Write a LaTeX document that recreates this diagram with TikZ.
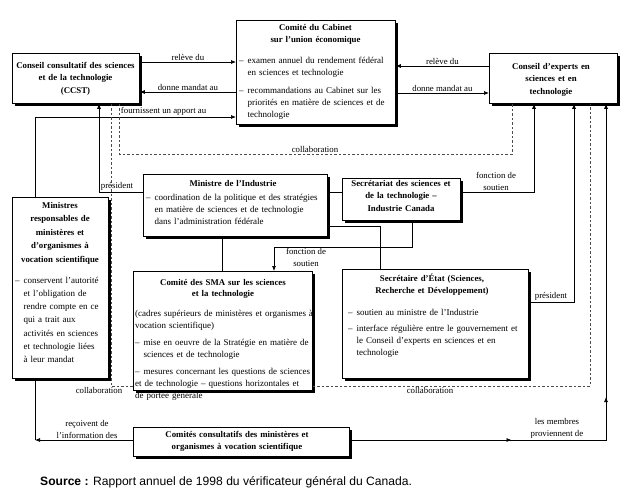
\documentclass[tikz,border=0pt]{standalone}
\usepackage{fontspec}
\setmainfont{Liberation Serif}
\newfontfamily\srcfont{Liberation Sans}
\usetikzlibrary{arrows.meta,shadows,decorations.markings}
\begin{document}
\begin{tikzpicture}[x=1pt,y=-1pt,
  box/.style={draw=black, line width=0.8pt, fill=white, inner sep=0pt, anchor=north west,
    drop shadow={shadow xshift=2.8pt, shadow yshift=-2.8pt, fill=black, opacity=1}},
  ttl/.style={font=\fontsize{8.8}{12.5}\selectfont\bfseries, align=center, inner sep=0pt, anchor=base},
  bdy/.style={font=\fontsize{9}{12}\selectfont, align=left, inner sep=0pt, anchor=base west},
  lbl/.style={font=\fontsize{8.8}{12}\selectfont, align=center, inner sep=1pt},
  ln/.style={line width=0.7pt},
  tip/.style={-{Latex[length=5pt,width=4pt]}},
  arr/.style={ln, tip},
  dsh/.style={line width=0.7pt, dash pattern=on 2.5pt off 2pt, black!70},
]
\useasboundingbox (0,0) rectangle (628,498);

% boxes
\node[box, minimum width=127pt, minimum height=50pt] (ccst) at (12,53) {};
\node[box, minimum width=159pt, minimum height=104pt] (cab) at (236,20) {};
\node[box, minimum width=128pt, minimum height=50pt] (cex) at (489,53) {};
\node[box, minimum width=184pt, minimum height=62pt] (min) at (143,174) {};
\node[box, minimum width=118pt, minimum height=42pt] (sec) at (342,178) {};
\node[box, minimum width=96pt, minimum height=181pt] (mrs) at (12,197) {};
\node[box, minimum width=179pt, minimum height=119pt] (sma) at (133,271) {};
\node[box, minimum width=186pt, minimum height=109pt] (set) at (342,269) {};
\node[box, minimum width=216pt, minimum height=29pt] (ccm) at (133,427) {};

% texts
\node[ttl, text width=127pt] (ccstT) at (75.5,68) {Conseil consultatif des sciences\\et de la technologie\\(CCST)};
\node[ttl, text width=159pt] (cabT) at (315.5,30) {Comité du Cabinet\\sur l’union économique};
\node[bdy, text width=156pt] (cabB) at (239,63) {–\hspace{4pt}examen annuel du rendement fédéral\\\hspace*{8.4pt}en sciences et technologie\\[6pt]–\hspace{4pt}recommandations au Cabinet sur les\\\hspace*{8.4pt}priorités en matière de sciences et de\\\hspace*{8.4pt}technologie};
\node[ttl, text width=128pt] (cexT) at (551,69) {Conseil d’experts en\\sciences et en\\technologie};
\node[ttl, text width=184pt] (minT) at (233,186) {Ministre de l’Industrie};
\node[bdy, text width=180pt] (minB) at (146,200) {–\hspace{4pt}coordination de la politique et des stratégies\\\hspace*{8.4pt}en matière de sciences et de technologie\\\hspace*{8.4pt}dans l’administration fédérale};
\node[ttl, text width=118pt] (secT) at (401,186) {Secrétariat des sciences et\\de la technologie –\\Industrie Canada};
\node[ttl, text width=96pt, font=\fontsize{8.8}{13.5}\selectfont\bfseries] (mrsT) at (60,208) {Ministres\\responsables de\\ministères et\\d’organismes à\\vocation scientifique};
\node[bdy, text width=94pt, font=\fontsize{9}{13.3}\selectfont] (mrsB) at (15,283) {–\hspace{4pt}conservent l’autorité\\\hspace*{8.4pt}et l’obligation de\\\hspace*{8.4pt}rendre compte en ce\\\hspace*{8.4pt}qui a trait aux\\\hspace*{8.4pt}activités en sciences\\\hspace*{8.4pt}et technologie liées\\\hspace*{8.4pt}à leur mandat};
\node[ttl, text width=179pt, font=\fontsize{8.8}{11.5}\selectfont\bfseries] (smaT) at (223,285) {Comité des SMA sur les sciences\\et la technologie};
\node[bdy, text width=178pt] (smaB) at (135,316) {(cadres supérieurs de ministères et organismes à\\vocation scientifique)\\[5pt]–\hspace{4pt}mise en oeuvre de la Stratégie en matière de\\\hspace*{8.4pt}sciences et de technologie\\[5pt]–\hspace{4pt}mesures concernant les questions de sciences\\et de technologie – questions horizontales et\\de portée générale};
\node[ttl, text width=186pt] (setT) at (432,281) {Secrétaire d’État (Sciences,\\Recherche et Développement)};
\node[bdy, text width=182pt] (setB) at (348,315) {–\hspace{4pt}soutien au ministre de l’Industrie\\[4pt]–\hspace{4pt}interface régulière entre le gouvernement et\\\hspace*{8.4pt}le Conseil d’experts en sciences et en\\\hspace*{8.4pt}technologie};
\node[ttl, text width=216pt] (ccmT) at (237,437) {Comités consultatifs des ministères et\\organismes à vocation scientifique};

% connectors top
\draw[arr] (ccst.east |- 0,62) -- (cab.west |- 0,62) node[lbl, midway, above] {relève du};
\draw[arr] (cab.west |- 0,92) -- (ccst.east |- 0,92) node[lbl, midway, above] {donne mandat au};
\draw[arr] (cex.west |- 0,66) -- (cab.east |- 0,66) node[lbl, midway, above] {relève du};
\draw[arr] (cab.east |- 0,93) -- (cex.west |- 0,93) node[lbl, midway, above] {donne mandat au};
\draw[arr] (35,0 |- mrs.north) |- (cab.west |- 0,117) node[lbl, pos=0.82, above] {fournissent un apport au};

% collaboration dashed
\draw[dsh] (119,0 |- ccst.south) |- (315,154) node[lbl, above, black] {collaboration} -| (512,0 |- cex.south);
\draw[dsh] (111,0 |- ccst.south) |- (sma.west |- 0,386);
\draw[dsh] (sma.east |- 0,386) -| (590,0 |- cex.south);
\node[lbl, below] (colL) at (99,386) {collaboration};
\node[lbl, below] (colR) at (430,386) {collaboration};

% middle
\draw[arr] (min.west |- 0,192) -| (99,0 |- ccst.south);
\node[lbl, above] (presL) at (117,192) {président};
\draw[ln] (min.east |- 0,192) -- (sec.west |- 0,192);
\draw[arr] (sec.east |- 0,192) -| (534,0 |- cex.south);
\node[lbl, above] (fsR) at (496,192) {fonction de\\soutien};
\draw[arr] (412,0 |- sec.south) |- (274,247) -- (274,0 |- sma.north);
\node[lbl, below] (fsM) at (306,247) {fonction de\\soutien};
\draw[ln] (222,0 |- min.south) -- (222,0 |- sma.north);
\draw[ln] (min.east |- 0,226) -| (380,0 |- set.north);
\draw[arr] (set.east |- 0,302) -| (574,0 |- cex.south);
\node[lbl, above] (presR) at (551,302) {président};

% bottom
\coordinate (cL) at (35,440);
\draw[arr] (ccm.west |- cL) -- (cL);
\draw[ln] (35,0 |- mrs.south) -- (cL);
\node[lbl, above] (recv) at (87,440) {reçoivent de\\l’information des};
\draw[arr, postaction={decorate}, decoration={markings,
    mark=at position 0.273 with {\arrow{Latex[length=5pt,width=4pt]}},
    mark=at position 0.505 with {\arrow{Latex[length=5pt,width=4pt]}}}]
  (ccm.east |- 0,440) -| (606,0 |- cex.south);
\node[lbl, above] (memb) at (557,440) {les membres\\proviennent de};

% source
\node[anchor=base west, inner sep=0pt, font=\srcfont\fontsize{12.1}{14}\selectfont] (src) at (40,485) {\textbf{Source :} Rapport annuel de 1998 du vérificateur général du Canada.};
\end{tikzpicture}
\end{document}
